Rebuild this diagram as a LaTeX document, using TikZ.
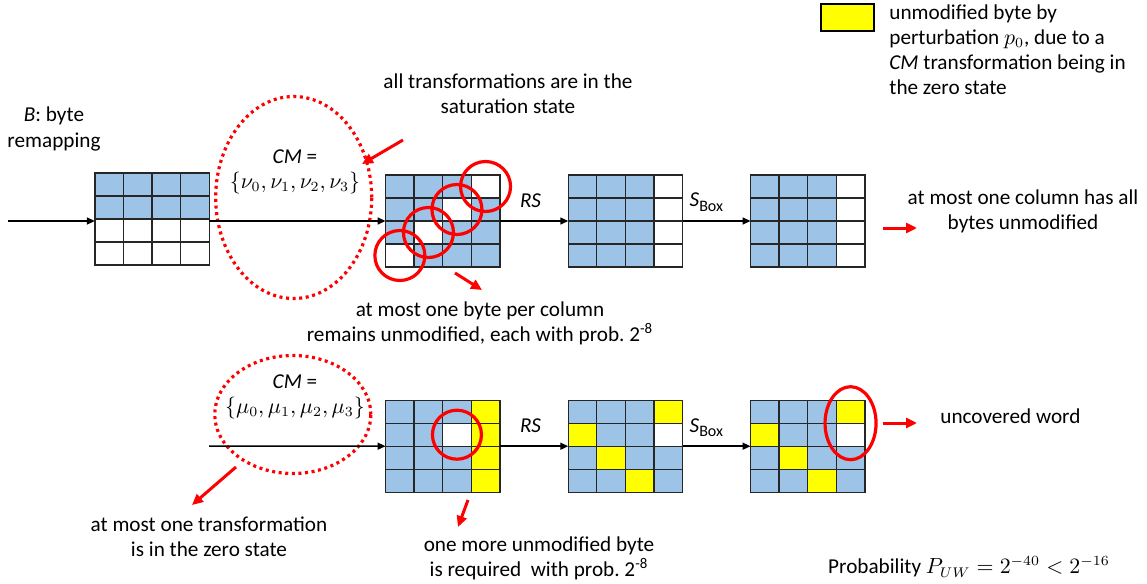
\documentclass[tikz,border=0pt]{standalone}
\usepackage{fontspec}
\setmainfont{Carlito}
\usepackage{tikz}
\usetikzlibrary{arrows.meta, positioning, calc, shapes.geometric}
\definecolor{byteblue}{RGB}{157,195,230}
\definecolor{byteyellow}{RGB}{255,255,0}
\definecolor{markred}{RGB}{255,0,0}
\definecolor{gridgray}{RGB}{38,38,38}
\colorlet{bl}{byteblue}
\colorlet{ye}{byteyellow}
\colorlet{wh}{white}
\frenchspacing

% fill and rule one 4x4 state, rows listed top to bottom
\newcommand{\statecells}[2]{%
  \foreach \rowfill [count=\rownum] in {#2} {
    \foreach \cellfill [count=\colnum] in \rowfill {
      \fill[fill=\cellfill] ($(#1.north west)+({(\colnum-1)*28.575},{(\rownum-1)*23})$) rectangle +(28.575,23);
    }
  }
  \foreach \k in {1,2,3} {
    \draw[cellline] ($(#1.north west)+({\k*28.575},0)$) -- +(0,92);
    \draw[cellline] ($(#1.north west)+(0,{\k*23})$) -- +(114.3,0);
  }
  \draw[cellline] (#1.north west) rectangle (#1.south east);
}

\begin{document}
\begin{tikzpicture}[x=0.5pt, y=-0.5pt, >={Triangle[length=4pt,width=3.5pt]}, font=\fontsize{10.6}{12.6}\selectfont]
  \tikzstyle{state} = [rectangle, minimum width=57.15pt, minimum height=46pt, inner sep=0pt, outer sep=0pt]
  \tikzstyle{cellline} = [draw=gridgray, line width=0.65pt]
  \tikzstyle{flow} = [->, line width=0.75pt]
  \tikzstyle{note} = [align=center, inner sep=0pt]
  \tikzstyle{hint} = [-{Triangle[length=5.5pt,width=5pt]}, draw=markred, line width=1.5pt]
  \tikzstyle{ring} = [circle, draw=markred, line width=1.6pt, minimum size=25pt, inner sep=0pt]
  \tikzstyle{oval} = [ellipse, draw=markred, line width=1.6pt, inner sep=0pt]
  \tikzstyle{zone} = [ellipse, draw=markred, line width=1.6pt, dash pattern=on 1.5pt off 1.8pt, inner sep=0pt]

  \useasboundingbox (0,0) rectangle (1147,584);

  % top row: all transformations saturated
  \node[state] (g1) at (152,219) {};
  \node[state, right=88.2pt of g1, yshift=-1pt] (g2) {};
  \node[state, right=34.2pt of g2] (g3) {};
  \node[state, right=34pt of g3] (g4) {};
  % bottom row: one transformation in the zero state
  \node[state, below=66.6pt of g2] (g5) {};
  \node[state, right=34.2pt of g5] (g6) {};
  \node[state, right=34pt of g6] (g7) {};

  \statecells{g1}{{bl,bl,bl,bl},{bl,bl,bl,bl},{wh,wh,wh,wh},{wh,wh,wh,wh}}
  \statecells{g2}{{bl,bl,bl,wh},{bl,bl,wh,bl},{bl,wh,bl,bl},{wh,bl,bl,bl}}
  \statecells{g3}{{bl,bl,bl,wh},{bl,bl,bl,wh},{bl,bl,bl,wh},{bl,bl,bl,wh}}
  \statecells{g4}{{bl,bl,bl,wh},{bl,bl,bl,wh},{bl,bl,bl,wh},{bl,bl,bl,wh}}
  \statecells{g5}{{bl,bl,bl,ye},{bl,bl,wh,ye},{bl,bl,bl,ye},{bl,bl,bl,ye}}
  \statecells{g6}{{bl,bl,bl,ye},{ye,bl,bl,wh},{bl,ye,bl,bl},{bl,bl,ye,bl}}
  \statecells{g7}{{bl,bl,bl,ye},{ye,bl,bl,wh},{bl,ye,bl,bl},{bl,bl,ye,bl}}

  % CM sets
  \node[zone, minimum width=78pt, minimum height=101pt] (z1) at (293.7,197.5) {};
  \node[zone, minimum width=78pt, minimum height=59pt] (z2) at (292.8,414.5) {};
  \node[note] (cm1) at (295,171.5) {\textit{CM} =\\$\{\nu_0,\nu_1,\nu_2,\nu_3\}$};
  \node[note] (cm2) at (295,396.5) {\textit{CM} =\\$\{\mu_0,\mu_1,\mu_2,\mu_3\}$};

  % data flow
  \coordinate (in1) at (8,221);
  \coordinate (in2) at (209,446);
  \draw[flow] (in1) -- (in1 -| g1.west);
  \draw[flow] (in1 -| g1.east) -- (g2.west);
  \draw[flow] (g2.east) -- node[pos=0.45, above=3pt, name=rs1] {\textit{RS}} (g3.west);
  \draw[flow] (g3.east) -- node[pos=0.35, above=1pt, name=sb1] {\textit{S}\raisebox{-0.45ex}{\footnotesize Box}} (g4.west);
  \draw[flow] (in2) -- (g5.west);
  \draw[flow] (g5.east) -- node[pos=0.45, above=3pt, name=rs2] {\textit{RS}} (g6.west);
  \draw[flow] (g6.east) -- node[pos=0.35, above=1pt, name=sb2] {\textit{S}\raisebox{-0.45ex}{\footnotesize Box}} (g7.west);

  % marked bytes
  \node[ring] (r1) at ($(g2.north west)+(100.0,11.5)$) {};
  \node[ring] (r2) at ($(g2.north west)+(71.4,34.5)$) {};
  \node[ring] (r3) at ($(g2.north west)+(42.9,57.5)$) {};
  \node[ring] (r4) at ($(g2.north west)+(14.3,80.5)$) {};
  \node[ring, minimum size=24.5pt] (r5) at ($(g5.north west)+(71.4,34.5)$) {};
  \node[oval, minimum width=25.5pt, minimum height=36.5pt] (r6) at ($(g7.north west)+(100,23)$) {};

  % notes
  \node[note] (bremap) at (54,129) {\textit{B}: byte\\remapping};
  \node[note] (satnote) at (508,94) {all transformations are in the\\saturation state};
  \node[note] (colnote) at (480,323) {at most one byte per column\\remains unmodified, each with prob.\ 2\textsuperscript{-8}};
  \node[note] (allnote) at (1023,211) {at most one column has all\\bytes unmodified};
  \node[note] (zeronote) at (209,537) {at most one transformation\\is in the zero state};
  \node[note] (morenote) at (539,558) {one more unmodified byte\\is required~ with prob.\ 2\textsuperscript{-8}};
  \node[note, anchor=west] (wordnote) at (940,416) {uncovered word};
  \node[note] (probnote) at (969,567) {Probability $P_{UW}=2^{-40}<2^{-16}$};

  % legend
  \node[draw=black, line width=0.7pt, fill=byteyellow, minimum width=26.5pt, minimum height=13.5pt, inner sep=0pt] (key) at (847.5,17.5) {};
  \node[note, align=left, anchor=north west] (keytext) at (889,4) {unmodified byte by\\perturbation $p_0$, due to a\\\textit{CM} transformation being in\\the zero state};

  % red pointers
  \coordinate (a1s) at (403,140); \coordinate (a1e) at (362,164);
  \coordinate (a2s) at (455,273); \coordinate (a2e) at (482,290);
  \coordinate (a3s) at (883,228); \coordinate (a3e) at (917,228);
  \coordinate (a4s) at (236,467); \coordinate (a4e) at (192,505);
  \coordinate (a5s) at (468,500); \coordinate (a5e) at (458,527);
  \coordinate (a6s) at (883,423); \coordinate (a6e) at (917,423);
  \draw[hint] (a1s) -- (a1e);
  \draw[hint] (a2s) -- (a2e);
  \draw[hint] (a3s) -- (a3e);
  \draw[hint] (a4s) -- (a4e);
  \draw[hint] (a5s) -- (a5e);
  \draw[hint] (a6s) -- (a6e);
\end{tikzpicture}
\end{document}
